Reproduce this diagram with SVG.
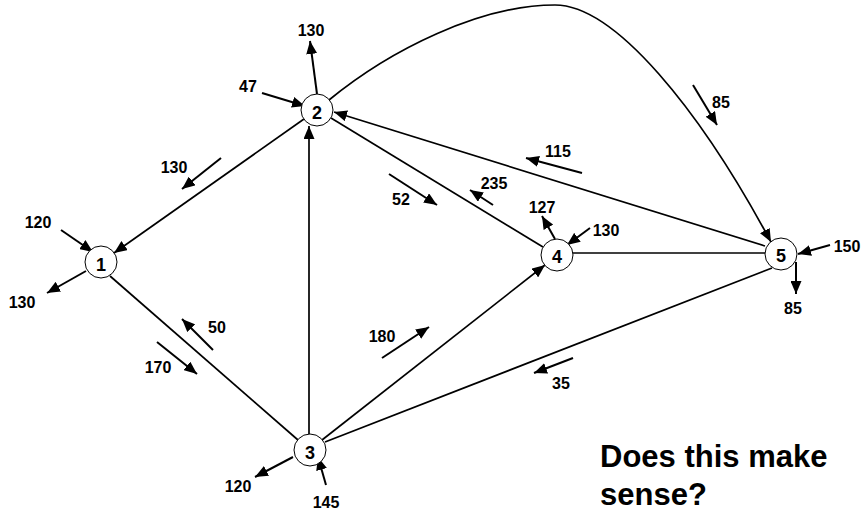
<svg xmlns="http://www.w3.org/2000/svg" width="864" height="512" viewBox="0 0 864 512">
<style>
.edge{stroke:#000;stroke-width:1.7;fill:none}
.arr{stroke:#000;stroke-width:2;fill:none}
.node circle{fill:#fff;stroke:#000;stroke-width:1}
.nl{font-family:"Liberation Sans",Arial,sans-serif;font-weight:bold;font-size:18px;text-anchor:middle}
.lb{font-family:"Liberation Sans",Arial,sans-serif;font-weight:bold;font-size:16px;text-anchor:middle}
.q{font-family:"Liberation Sans",Arial,sans-serif;font-weight:bold;font-size:31px}
</style>
<defs>
<marker id="ah" markerUnits="userSpaceOnUse" markerWidth="14" markerHeight="11" refX="13" refY="5.5" orient="auto">
<path d="M0,0 L13,5.5 L0,11 z" fill="#000"/>
</marker>
</defs>
<g id="connectors">
<line class="edge" x1="304" y1="119" x2="114" y2="253" marker-end="url(#ah)"/>
<line class="edge" x1="110" y1="276" x2="298" y2="440"/>
<line class="edge" x1="309" y1="434" x2="309" y2="126" marker-end="url(#ah)"/>
<line class="edge" x1="322" y1="440" x2="545" y2="265" marker-end="url(#ah)"/>
<line class="edge" x1="325" y1="442" x2="772" y2="268"/>
<line class="edge" x1="331" y1="118" x2="543" y2="247"/>
<line class="edge" x1="573" y1="253" x2="765" y2="253"/>
<line class="edge" x1="765" y1="246" x2="334" y2="112" marker-end="url(#ah)"/>
<path class="edge" d="M329,100 C390,50 480,5 555,5 C615,5 700,110 771,242" marker-end="url(#ah)"/>
</g>
<g id="flows">
<line class="arr" x1="317" y1="94" x2="310" y2="41" marker-end="url(#ah)"/>
<line class="arr" x1="262" y1="93" x2="305" y2="106" marker-end="url(#ah)"/>
<line class="arr" x1="61" y1="230" x2="93" y2="252" marker-end="url(#ah)"/>
<line class="arr" x1="86" y1="271" x2="47" y2="293" marker-end="url(#ah)"/>
<line class="arr" x1="293" y1="457" x2="255" y2="477" marker-end="url(#ah)"/>
<line class="arr" x1="326" y1="485" x2="318" y2="457" marker-end="url(#ah)"/>
<line class="arr" x1="555" y1="239" x2="542" y2="216" marker-end="url(#ah)"/>
<line class="arr" x1="590" y1="228" x2="567" y2="245" marker-end="url(#ah)"/>
<line class="arr" x1="830" y1="245" x2="798" y2="254" marker-end="url(#ah)"/>
<line class="arr" x1="796" y1="262" x2="796" y2="294" marker-end="url(#ah)"/>
<line class="arr" x1="221" y1="158" x2="182" y2="189" marker-end="url(#ah)"/>
<line class="arr" x1="213" y1="350" x2="182" y2="319" marker-end="url(#ah)"/>
<line class="arr" x1="157" y1="342" x2="197" y2="374" marker-end="url(#ah)"/>
<line class="arr" x1="389" y1="174" x2="437" y2="205" marker-end="url(#ah)"/>
<line class="arr" x1="493" y1="205" x2="470" y2="190" marker-end="url(#ah)"/>
<line class="arr" x1="382" y1="358" x2="429" y2="327" marker-end="url(#ah)"/>
<line class="arr" x1="573" y1="358" x2="534" y2="373" marker-end="url(#ah)"/>
<line class="arr" x1="582" y1="173" x2="526" y2="158" marker-end="url(#ah)"/>
<line class="arr" x1="693" y1="85" x2="717" y2="125" marker-end="url(#ah)"/>
</g>
<g id="labels">
<text class="lb" x="311" y="36">130</text>
<text class="lb" x="248" y="92">47</text>
<text class="lb" x="38" y="228">120</text>
<text class="lb" x="22" y="308">130</text>
<text class="lb" x="238" y="492">120</text>
<text class="lb" x="326" y="508">145</text>
<text class="lb" x="542" y="213">127</text>
<text class="lb" x="606" y="236">130</text>
<text class="lb" x="847" y="252">150</text>
<text class="lb" x="793" y="314">85</text>
<text class="lb" x="174" y="173">130</text>
<text class="lb" x="217" y="333">50</text>
<text class="lb" x="158" y="373">170</text>
<text class="lb" x="401" y="205">52</text>
<text class="lb" x="494" y="189">235</text>
<text class="lb" x="382" y="342">180</text>
<text class="lb" x="561" y="389">35</text>
<text class="lb" x="558" y="157">115</text>
<text class="lb" x="721" y="108">85</text>
</g>
<g id="node1" class="node"><circle cx="101" cy="262" r="16"/><text class="nl" x="101" y="271">1</text></g>
<g id="node2" class="node"><circle cx="317" cy="110" r="16"/><text class="nl" x="317" y="119">2</text></g>
<g id="node3" class="node"><circle cx="310" cy="450" r="16"/><text class="nl" x="310" y="459">3</text></g>
<g id="node4" class="node"><circle cx="557" cy="255" r="16"/><text class="nl" x="557" y="263">4</text></g>
<g id="node5" class="node"><circle cx="781" cy="254" r="16"/><text class="nl" x="781" y="262">5</text></g>
<g id="question">
<text class="q" x="600" y="467">Does this make</text>
<text class="q" x="600" y="505">sense?</text>
</g>
</svg>
